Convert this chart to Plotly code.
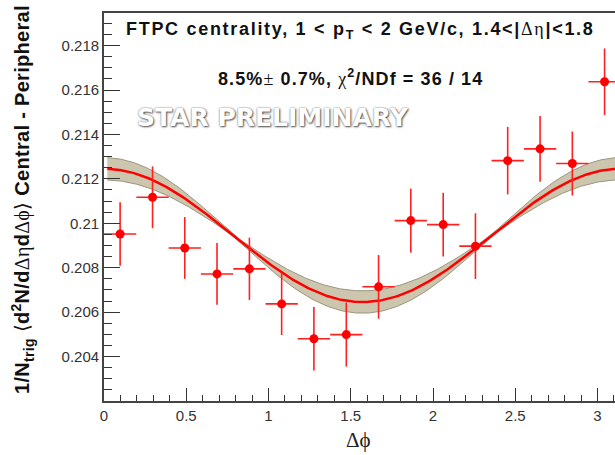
import numpy as np
import plotly.graph_objects as go

# Delta-phi bin centres (16 bins over 0..pi)
dphi = [0.098, 0.295, 0.491, 0.687, 0.884, 1.080, 1.276, 1.473,
        1.669, 1.865, 2.062, 2.258, 2.454, 2.651, 2.847, 3.043]
# Central - peripheral per-trigger yield
yield_cp = [0.20952, 0.21117, 0.20889, 0.20772, 0.20795, 0.20637, 0.20480, 0.20499,
            0.20714, 0.21012, 0.20994, 0.20897, 0.21282, 0.21335, 0.21269, 0.21637]
yield_err = [0.00143, 0.00139, 0.00139, 0.00139, 0.00140, 0.00140, 0.00143, 0.00144,
             0.00143, 0.00144, 0.00143, 0.00148, 0.00152, 0.00148, 0.00144, 0.00150]
bin_half_width = np.pi / 32

# Fit: B * (1 + 2 v2 cos 2dphi) -> baseline and cos(2dphi) amplitude
fit_baseline = 0.209455
fit_amplitude = 0.00300
fit_amplitude_err = 0.00050
fit_baseline_err = 0.00005

x_ticks = [0, 0.5, 1, 1.5, 2, 2.5, 3]
y_ticks = [0.204, 0.206, 0.208, 0.21, 0.212, 0.214, 0.216, 0.218]
y_tick_text = ["0.204", "0.206", "0.208", "0.21", "0.212", "0.214", "0.216", "0.218"]

W, H = 615, 455
L, R, T, B = 104, 0, 13, 54
PW, PH = W - L - R, H - T - B


def paper(px, py):
    return (px - L) / PW, (H - B - py) / PH


phi = np.linspace(0.02, np.pi, 300)
c2 = np.cos(2 * phi)
fit = fit_baseline + fit_amplitude * c2
band = np.sqrt(fit_baseline_err ** 2 + (fit_amplitude_err * c2) ** 2)
band_lo, band_hi = fit - band, fit + band

SERIF = "Liberation Serif"
SANS = "Liberation Sans"


def serif(s):
    return f"<span style='font-family:{SERIF};font-weight:normal'>{s}</span>"


def spaced(s, px):
    return f"<span style='letter-spacing:{px}px'>{s}</span>"


fig = go.Figure()

fig.add_trace(go.Scatter(x=phi, y=band_lo, mode="lines",
                         line=dict(color="#9c957f", width=1), showlegend=False, hoverinfo="skip"))
fig.add_trace(go.Scatter(x=phi, y=band_hi, mode="lines", fill="tonexty",
                         fillcolor="#cdc6ae", line=dict(color="#9c957f", width=1),
                         showlegend=False, hoverinfo="skip"))
fig.add_trace(go.Scatter(x=phi, y=fit, mode="lines",
                         line=dict(color="#ff0000", width=2.5), showlegend=False))

fig.add_trace(go.Scatter(
    x=dphi, y=yield_cp, mode="markers",
    marker=dict(color="#ff0000", size=9),
    error_y=dict(type="data", array=yield_err, color="#ff2020", thickness=1.6, width=0),
    error_x=dict(type="constant", value=bin_half_width, color="#ff2020", thickness=1.6, width=0),
    showlegend=False))

axis_common = dict(showgrid=False, zeroline=False, showline=True, linecolor="#444444",
                   linewidth=1.8, ticks="inside", tickcolor="#333333", tickwidth=1.3,
                   tickfont=dict(family=SANS, size=15, color="#333333"))

fig.update_xaxes(range=[0, (W - L - R) / 164.5], tickvals=x_ticks,
                 ticktext=["0", "0.5", "1", "1.5", "2", "2.5", "3"],
                 ticklen=13, mirror=True,
                 minor=dict(dtick=0.1, ticklen=6, ticks="inside", tickcolor="#333333", tickwidth=1.2),
                 **axis_common)
fig.update_yaxes(range=[0.202, 0.202 + PH / 22214], tickvals=y_ticks, ticktext=y_tick_text,
                 ticklen=16,
                 minor=dict(dtick=0.0005, ticklen=8, ticks="inside", tickcolor="#333333", tickwidth=1.2),
                 **axis_common)

ann = []
x, y = paper(360, 31)
ann.append(dict(x=x, y=y, xanchor="center", yanchor="middle",
                text=spaced("<b>FTPC centrality, 1 &lt; p<sub>T</sub> &lt; 2 GeV/c, 1.4&lt;|</b>"
                            + serif("Δη") + "<b>|&lt;1.8</b>", 1.7),
                font=dict(family=SANS, size=18, color="#111111")))
x, y = paper(350, 78)
ann.append(dict(x=x, y=y, xanchor="center", yanchor="middle",
                text=spaced("<b>8.5%</b>" + serif("±") + "<b> 0.7%, </b>" + serif("χ")
                            + "<b><sup>2</sup>/NDf = 36 / 14</b>", 1.1),
                font=dict(family=SANS, size=18, color="#111111")))
x, y = paper(273, 117)
ann.append(dict(x=x, y=y, xanchor="center", yanchor="middle",
                text="<b>STAR PRELIMINARY</b>",
                font=dict(family="DejaVu Sans", size=25, color="#ffffff",
                          shadow="1px 1px 2px #555555, 0px 0px 2px #777777")))
x, y = paper(358, 440)
ann.append(dict(x=x, y=y, xanchor="center", yanchor="middle",
                text="Δϕ", font=dict(family=SERIF, size=21, color="#222222")))
x, y = paper(23, 200)
ann.append(dict(x=x, y=y, xanchor="center", yanchor="middle", textangle=-90,
                text=spaced("<b>1/N<sub>trig</sub> </b>" + serif("⟨") + "<b>d<sup>2</sup>N/d</b>"
                            + serif("Δη") + "<b>d</b>" + serif("Δϕ⟩")
                            + "<b> Central - Peripheral</b>", 0.3),
                font=dict(family=SANS, size=20, color="#111111")))

for a in ann:
    a.update(xref="paper", yref="paper", showarrow=False)

fig.update_layout(width=W, height=H, margin=dict(l=L, r=R, t=T, b=B, pad=0),
                  paper_bgcolor="white", plot_bgcolor="white", annotations=ann)

fig.write_html("out.html")
